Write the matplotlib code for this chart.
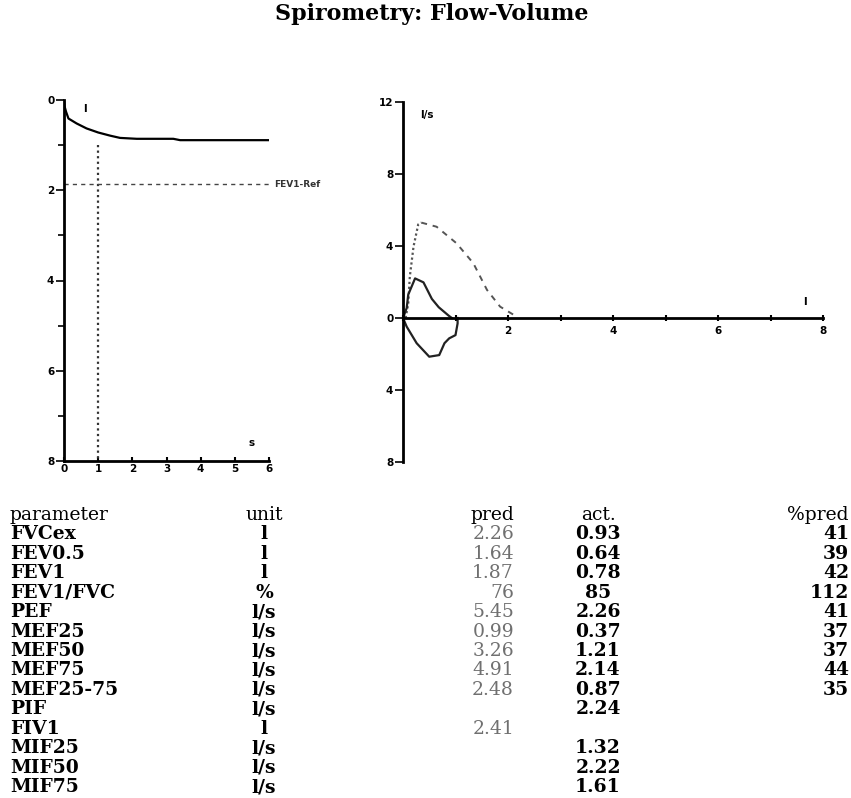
import matplotlib
matplotlib.use('Agg')
import matplotlib.pyplot as plt
from matplotlib.ticker import FuncFormatter, MultipleLocator

# volume-time curve (s, l)
vt_time = [0.0, 0.02, 0.06, 0.13, 0.37, 0.66, 1.0, 1.35, 1.64, 2.13, 3.2, 3.4, 6.0]
vt_vol = [0.0, 0.15, 0.26, 0.41, 0.52, 0.63, 0.72, 0.79, 0.84, 0.86, 0.86, 0.89, 0.89]
fev1_ref = 1.87

# flow-volume curves (l, l/s)
pred_vol = [0.05, 0.1, 0.13, 0.2, 0.29, 0.35, 0.64, 1.02, 1.34, 1.6, 1.85, 2.1, 2.15]
pred_flow = [0.0, 0.8, 2.3, 3.96, 5.2, 5.3, 5.07, 4.15, 3.04, 1.56, 0.63, 0.19, 0.0]
exp_vol = [0.0, 0.07, 0.1, 0.23, 0.39, 0.55, 0.68, 0.87, 0.93]
exp_flow = [0.0, 0.55, 1.3, 2.2, 1.98, 1.06, 0.6, 0.13, 0.0]
insp_vol = [0.0, 0.07, 0.26, 0.5, 0.69, 0.79, 0.88, 1.0, 1.04, 1.04]
insp_flow = [0.0, -0.48, -1.4, -2.15, -2.06, -1.4, -1.13, -0.95, -0.3, 0.0]

# table
header = ['parameter', 'unit', 'pred', 'act.', '%pred']
params = ['FVCex', 'FEV0.5', 'FEV1', 'FEV1/FVC', 'PEF', 'MEF25', 'MEF50', 'MEF75',
          'MEF25-75', 'PIF', 'FIV1', 'MIF25', 'MIF50', 'MIF75']
units = ['l', 'l', 'l', '%', 'l/s', 'l/s', 'l/s', 'l/s', 'l/s', 'l/s', 'l', 'l/s', 'l/s', 'l/s']
pred = ['2.26', '1.64', '1.87', '76', '5.45', '0.99', '3.26', '4.91', '2.48', '', '2.41', '', '', '']
act = ['0.93', '0.64', '0.78', '85', '2.26', '0.37', '1.21', '2.14', '0.87', '2.24', '', '1.32', '2.22', '1.61']
pct_pred = ['41', '39', '42', '112', '41', '37', '37', '44', '35', '', '', '', '', '']

W, H = 851, 798
fig = plt.figure(figsize=(W / 100, H / 100), dpi=100)

def fx(x):
    return x / W

def fy(y):
    return 1 - y / H

tick_font = dict(family='DejaVu Sans', weight='bold', size=7.5)
serif = 'DejaVu Serif'

fig.text(fx(432), fy(14), 'Spirometry: Flow-Volume', ha='center', va='center',
         family=serif, weight='bold', size=16)

# left: volume-time
ax1 = fig.add_axes([fx(64), fy(461), fx(269) - fx(64), fy(100) - fy(461)])
ax1.plot(vt_time, vt_vol, color='black', lw=1.6)
ax1.plot([1, 1], [1.0, 8], color='#333333', lw=1.6, ls=(0, (1, 1.5)))
ax1.plot([0, 6], [fev1_ref, fev1_ref], color='#444444', lw=1, ls=(0, (3, 3)))
ax1.text(6.15, fev1_ref, 'FEV1-Ref', ha='left', va='center', color='#333333',
         family='DejaVu Sans', weight='bold', size=6.5)
ax1.text(0.6, 0.2, 'l', ha='center', va='center', **tick_font)
ax1.text(5.5, 7.6, 's', ha='center', va='center', **tick_font)
ax1.set_xlim(0, 6)
ax1.set_ylim(8, 0)
ax1.yaxis.set_major_locator(MultipleLocator(2))
ax1.yaxis.set_minor_locator(MultipleLocator(1))
ax1.xaxis.set_major_locator(MultipleLocator(1))
ax1.tick_params(axis='x', which='major', direction='in', length=3, width=1.5, pad=2)
for s in ['top', 'right']:
    ax1.spines[s].set_visible(False)
for s in ['left', 'bottom']:
    ax1.spines[s].set_linewidth(2)

# right: flow-volume
ax2 = fig.add_axes([fx(403), fy(462), fx(823) - fx(403), fy(102) - fy(462)])
ax2.plot(pred_vol[:6], pred_flow[:6], color='#555555', lw=1.6, ls=(0, (1, 1.2)))
ax2.plot(pred_vol[5:], pred_flow[5:], color='#555555', lw=1.4, ls=(0, (3, 3)))
ax2.plot(exp_vol, exp_flow, color='#222222', lw=1.6)
ax2.plot(insp_vol, insp_flow, color='#222222', lw=1.6)
ax2.text(0.45, 11.3, 'l/s', ha='center', va='center', **tick_font)
ax2.text(7.65, 0.9, 'l', ha='center', va='center', **tick_font)
ax2.set_xlim(0, 8)
ax2.set_ylim(-8, 12)
ax2.yaxis.set_major_locator(MultipleLocator(4))
ax2.xaxis.set_major_locator(MultipleLocator(2))
ax2.xaxis.set_minor_locator(MultipleLocator(1))
ax2.yaxis.set_major_formatter(FuncFormatter(lambda v, p: '%d' % abs(v)))
ax2.xaxis.set_major_formatter(FuncFormatter(lambda v, p: '' if v == 0 else '%d' % v))
ax2.spines['bottom'].set_position(('data', 0))
ax2.tick_params(axis='x', which='both', direction='inout', length=4, width=1.5, pad=4)
for s in ['top', 'right']:
    ax2.spines[s].set_visible(False)
for s in ['left', 'bottom']:
    ax2.spines[s].set_linewidth(2)

for ax in (ax1, ax2):
    ax.tick_params(axis='y', which='major', length=6, width=1.2, pad=1)
    ax.tick_params(axis='y', which='minor', length=4, width=1.2)
    for lab in ax.get_xticklabels() + ax.get_yticklabels():
        lab.set_fontproperties(matplotlib.font_manager.FontProperties(**tick_font))

# table
row_y0, row_dy = 515, 19.43
fs = 13.5
fig.text(fx(10), fy(row_y0), header[0], ha='left', va='center', family=serif, size=fs)
fig.text(fx(264), fy(row_y0), header[1], ha='center', va='center', family=serif, size=fs)
fig.text(fx(514), fy(row_y0), header[2], ha='right', va='center', family=serif, size=fs)
fig.text(fx(598), fy(row_y0), header[3], ha='center', va='center', family=serif, size=fs)
fig.text(fx(849), fy(row_y0), header[4], ha='right', va='center', family=serif, size=fs)
for i in range(len(params)):
    y = fy(row_y0 + (i + 1) * row_dy)
    fig.text(fx(10), y, params[i], ha='left', va='center', family=serif, size=fs, weight='bold')
    fig.text(fx(264), y, units[i], ha='center', va='center', family=serif, size=fs, weight='bold')
    fig.text(fx(514), y, pred[i], ha='right', va='center', family=serif, size=fs, color='#707070')
    fig.text(fx(598), y, act[i], ha='center', va='center', family=serif, size=fs, weight='bold')
    fig.text(fx(849), y, pct_pred[i], ha='right', va='center', family=serif, size=fs, weight='bold')

fig.savefig('out.png', dpi=100)
